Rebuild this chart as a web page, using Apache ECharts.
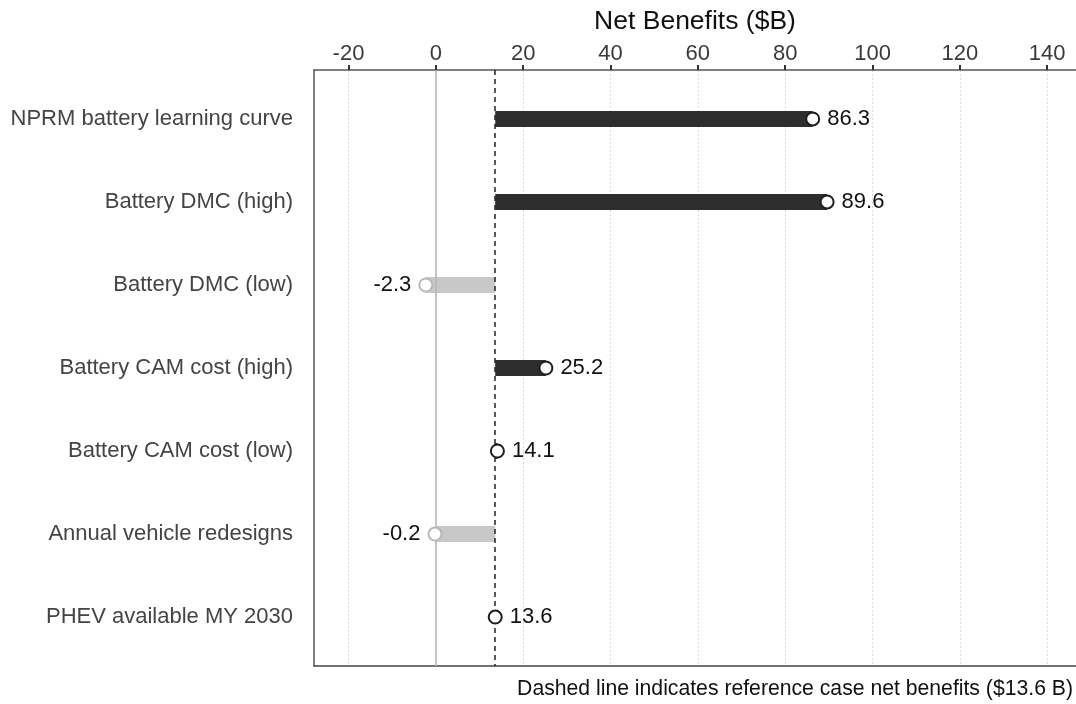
<!DOCTYPE html>
<html>
<head>
<meta charset="utf-8">
<script src="https://cdn.jsdelivr.net/npm/echarts@6/dist/echarts.min.js"></script>
<style>html,body{margin:0;padding:0;background:#fff;}#chart{width:1076px;height:704px;}</style>
</head>
<body>
<div id="chart"></div>
<script>
const categories = [
  'NPRM battery learning curve',
  'Battery DMC (high)',
  'Battery DMC (low)',
  'Battery CAM cost (high)',
  'Battery CAM cost (low)',
  'Annual vehicle redesigns',
  'PHEV available MY 2030'
];
const netBenefits = [86.3, 89.6, -2.3, 25.2, 14.1, -0.2, 13.6];
const referenceValue = 13.6;
const xTickValues = [-20, 0, 20, 40, 60, 80, 100, 120, 140];
const axisTitle = 'Net Benefits ($B)';
const footNote = 'Dashed line indicates reference case net benefits ($13.6 B)';

const FONT = 'Liberation Sans, Arial, sans-serif';
const DARK = '#2e2e2e';
const LIGHT = '#c8c8c8';
const X_MIN = -27.9, X_MAX = 146.6;
const rowIdx = categories.map((c, i) => i);

const chart = echarts.init(document.getElementById('chart'), null, {renderer: 'canvas'});

const option = {
  animation: false,
  backgroundColor: '#fff',
  grid: {left: 314, right: 0, top: 70, bottom: 38, containLabel: false},
  xAxis: [{
    type: 'value',
    position: 'top',
    min: X_MIN,
    max: X_MAX,
    name: axisTitle,
    nameLocation: 'middle',
    nameGap: 35,
    nameTextStyle: {fontFamily: FONT, fontSize: 26.5, color: '#111'},
    axisLine: {show: true, onZero: false, lineStyle: {color: '#555', width: 1.5}},
    axisTick: {show: true, length: 5, customValues: xTickValues, lineStyle: {color: '#333', width: 2}},
    axisLabel: {customValues: xTickValues, margin: 5, fontFamily: FONT, fontSize: 22, color: '#3a3a3a'},
    splitLine: {show: true, lineStyle: {color: '#dcdcdc', width: 1, type: [2, 2]}}
  }, {
    type: 'value',
    position: 'bottom',
    min: X_MIN,
    max: X_MAX,
    axisLine: {show: true, onZero: false, lineStyle: {color: '#444', width: 1.5}},
    axisTick: {show: false},
    axisLabel: {show: false},
    splitLine: {show: false}
  }],
  yAxis: {
    type: 'value',
    inverse: true,
    min: -0.59,
    max: 6.59,
    axisLine: {show: true, onZero: false, lineStyle: {color: '#555', width: 1.5}},
    axisTick: {show: false},
    splitLine: {show: false},
    axisLabel: {
      customValues: rowIdx,
      margin: 21,
      fontFamily: FONT,
      fontSize: 22,
      color: '#444',
      formatter: v => categories[Math.round(v)] || ''
    }
  },
  graphic: [{
    type: 'text',
    right: 3,
    top: 679,
    style: {text: footNote, fontFamily: FONT, fontSize: 21.2, fill: '#111'}
  }],
  series: [
    {
      type: 'custom',
      z: 3,
      data: netBenefits.map((v, i) => [v, i]),
      renderItem: function (params, api) {
        const v = api.value(0);
        const y = api.value(1);
        const a = api.coord([referenceValue, y]);
        const b = api.coord([v, y]);
        const h = 16;
        return {
          type: 'rect',
          shape: {x: Math.min(a[0], b[0]), y: a[1] - h / 2, width: Math.abs(b[0] - a[0]), height: h},
          style: {fill: v >= referenceValue ? DARK : LIGHT}
        };
      },
      markLine: {
        silent: true,
        symbol: 'none',
        label: {show: false},
        data: [
          {xAxis: 0, lineStyle: {color: '#b5b5b5', width: 1.5, type: 'solid'}},
          {xAxis: referenceValue, lineStyle: {color: '#222', width: 1.5, type: [5, 4]}}
        ]
      }
    },
    {
      type: 'scatter',
      z: 5,
      symbol: 'circle',
      symbolSize: 13,
      itemStyle: {opacity: 1},
      data: netBenefits.map((v, i) => {
        const above = v >= referenceValue;
        return {
          value: [v, i],
          itemStyle: {color: '#fff', opacity: 1, borderColor: above ? '#1e1e1e' : '#b8b8b8', borderWidth: 2},
          label: {
            show: true,
            position: above ? 'right' : 'left',
            distance: 7,
            formatter: String(v.toFixed(1)),
            fontFamily: FONT,
            fontSize: 22,
            color: '#111'
          }
        };
      })
    }
  ]
};
chart.setOption(option);
</script>
</body>
</html>
